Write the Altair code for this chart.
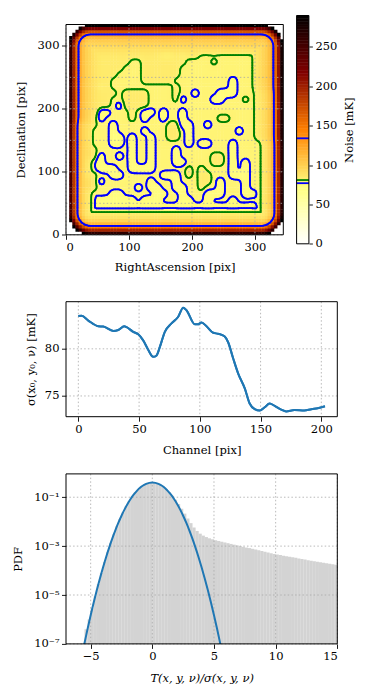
import altair as alt
import numpy as np
import pandas as pd

FONT = "DejaVu Serif"
FS = 11.5
BLUE = "#0000ff"
GREEN = "#008000"
LINE_C = "#1f77b4"
GRID_C = "#a8a8a8"

# ---------------- Panel 1: noise map (coarse level map) ----------------
# rows from top (Dec ~335) to bottom (Dec ~5), 10-pix cells, RA from 5 to 345
MAP_ROWS = [
    "ggggggggggggggggggggggggggggggggggg",  # 335
    "ggggggggggggggggggggggggggggggggggg",  # 325
    "ggggggggggggggggggggggggggggggggggg",  # 315
    "ggggggggggggggggggggggggggggggggggg",  # 305
    "ggggggggggggggggggggggggggggggggggg",  # 295
    "ggggggggggggggg..g.gg.........ggggg",  # 285
    "gggggggggg..ggggggg....g......ggggg",  # 275
    "ggggggggg...gggggg............ggggg",  # 265
    "gggggggg....gggggg............ggggg",  # 255
    "ggggggg.....ggggg.........b...ggggg",  # 245
    "ggggg.g..........g........b...ggggg",  # 235
    "gggggggg.gggg....g..b...bbb........",  # 225
    "ggggggg..gggg....gb....bb...g......",  # 215
    "ggggggg.bgggg......................",  # 205
    "gggggbb...g.bb.b..b................",  # 195
    "gggg.b....g.b..b..b.....gg.........",  # 185
    "bbb....b........ggbb..b............",  # 175
    "bbb.b..b....b...gg.b.......b.......",  # 165
    "bbb.b..bb.b..b..gg.b...............",  # 155
    "bbb.b..bb.b..b.....b.bb...b...bbbbb",  # 145
    "bbb.......b..b...b........b...bbbbb",  # 135
    "bbb..b..b.b..b...b.....gg.b...bbbbb",  # 125
    "bbbbbb....b..b...bb....gg.b.b.bbbbb",  # 115
    "bbbbbbbb..bbbb.....g.g....b.b.bbbbb",  # 105
    "bbbb...bb......bbb.g.gg...bbb.bbbbb",  # 95
    "bbb..b.......b...b...gg.b...b.bbbbb",  # 85
    "bbb........b.bb..bb..g..b...b.bbbbb",  # 75
    "bbbbb..bb.....bb..b...bbb...bbbbbbb",  # 65
    "bbbbbbbbbbb.bbb...bb..b...b...bbbbb",  # 55
    "bbbbbbbbbbbbbbbbbbbbbbbbbbbbbbbbbbb",  # 45
    "bbbbbbbbbbbbbbbbbbbbbbbbbbbbbbbbbbb",  # 35
    "bbbbbbbbbbbbbbbbbbbbbbbbbbbbbbbbbbb",  # 25
    "bbbbbbbbbbbbbbbbbbbbbbbbbbbbbbbbbbb",  # 15
    "bbbbbbbbbbbbbbbbbbbbbbbbbbbbbbbbbbb",  # 5
]
MAP_LEVELS = {"b": 72.5, ".": 79.0, "g": 84.0}
MAP_CELL = 10.0
MAP_SMOOTH = 3.0
EDGE_D = [0, 2, 4, 6, 8, 10, 12, 14, 16, 18, 20, 22, 25, 28, 31, 34, 36, 38, 40, 42, 45, 50, 55]
EDGE_EXTRA = [230, 200, 170, 142, 118, 98, 80, 62, 48, 38, 31, 25, 19, 15, 13, 10.5, 8.5, 6.5, 5.5, 4.5,
              2.5, 0.8, 0]
IMG_BOX = [4.0, 0.0, 345.0, 334.0]
IMG_CORNER = 35.0
CONTOUR_LEVELS = [77, 81, 134]
CONTOUR_COLORS = [BLUE, GREEN, BLUE]
HEAT_XDOM = [0, 345]
HEAT_YDOM = [0, 334]
HEAT_XTICKS = [0, 100, 200, 300]
HEAT_YTICKS = [0, 50, 100, 150, 200, 250, 300]
CB_MAX = 290
CB_TICKS = [0, 50, 100, 150, 200, 250]
CMAP_DOMAIN = [0, 72.5, 145, 217.5, 290]
CMAP_RANGE = ["#ffffff", "#ffff80", "#ff8000", "#800000", "#000000"]

# ---------------- Panel 2: sigma vs channel ----------------
CHANNEL = [0, 2.7, 8.2, 16.4, 20.5, 28.8, 32.9, 37.8, 39.7, 45.2, 49.3, 53.4, 57.5, 61.6, 64.4,
           67.1, 71.2, 76.7, 82.2, 86.3, 89, 95.9, 98.6, 101.4, 105.5, 111, 115, 120.5, 123.3,
           127.4, 131.5, 137, 141, 145.2, 149.3, 153.4, 157.5, 161.6, 167, 171, 178, 186, 191.8,
           197, 203]
SIGMA = [83.49, 83.5, 83.0, 82.4, 82.36, 81.9, 82.0, 82.4, 82.3, 81.8, 81.55, 80.9, 79.9, 79.15,
         79.3, 80.2, 81.8, 82.7, 83.4, 84.37, 84.1, 82.6, 82.6, 82.8, 82.4, 81.7, 81.6, 81.3, 80.7,
         79.0, 77.4, 75.8, 74.2, 73.6, 73.45, 73.8, 74.2, 73.95, 73.55, 73.35, 73.5, 73.45, 73.6,
         73.7, 73.9]
P2_XTICKS = [0, 50, 100, 150, 200]
P2_YTICKS = [75, 80]

# ---------------- Panel 3: PDF histogram ----------------
HIST_START = -5.5
HIST_BIN = 0.25
HIST_LOG10 = [-6.4, -6.0, -5.55, -5.05, -4.55, -4.1, -3.65, -3.25, -2.87, -2.52, -2.19, -1.89,
              -1.62, -1.37, -1.15, -0.96, -0.80, -0.67, -0.56, -0.48, -0.43, -0.40,
              -0.40, -0.43, -0.48, -0.56, -0.66, -0.79, -0.94, -1.10, -1.28, -1.47, -1.67, -1.87,
              -2.06, -2.24, -2.38, -2.49, -2.57, -2.63, -2.68, -2.72,
              -2.76, -2.79, -2.82, -2.85, -2.88, -2.91, -2.94, -2.97, -3.00, -3.03, -3.06, -3.08,
              -3.11, -3.14, -3.17, -3.20, -3.23, -3.26, -3.29, -3.32,
              -3.34, -3.36, -3.39, -3.41, -3.44, -3.46, -3.48, -3.51, -3.53, -3.55, -3.58, -3.60,
              -3.62, -3.64, -3.66, -3.68, -3.70, -3.72, -3.74, -3.76]
GAUSS_X = [-5.75 + 0.25 * k for k in range(47)]
GAUSS_PDF = [2.64e-8, 1.077e-7, 4.13e-7, 1.487e-6, 5.03e-6, 1.598e-5, 4.77e-5, 1.338e-4, 3.526e-4,
             8.727e-4, 2.029e-3, 4.432e-3, 9.09e-3, 1.753e-2, 3.174e-2, 5.399e-2, 8.628e-2, 0.1295,
             0.1827, 0.2420, 0.3011, 0.3521, 0.3867, 0.3989, 0.3867, 0.3521, 0.3011, 0.2420, 0.1827,
             0.1295, 8.628e-2, 5.399e-2, 3.174e-2, 1.753e-2, 9.09e-3, 4.432e-3, 2.029e-3, 8.727e-4,
             3.526e-4, 1.338e-4, 4.77e-5, 1.598e-5, 5.03e-6, 1.487e-6, 4.13e-7, 1.077e-7, 2.64e-8]
P3_XTICKS = [-5, 0, 5, 10, 15]
P3_YTICKS = [1e-7, 1e-5, 1e-3, 1e-1]

# ================= build panel 1 field =================
NCOL = 35
rows = [r.ljust(NCOL, ".")[:NCOL] for r in MAP_ROWS][::-1]  # bottom row first
C = np.array([[MAP_LEVELS[ch] for ch in r] for r in rows])
nyc, nxc = C.shape


def gsmooth(A, sigma_cells):
    r = max(1, int(np.ceil(3 * sigma_cells)))
    t = np.arange(-r, r + 1)
    k = np.exp(-0.5 * (t / sigma_cells) ** 2)
    k /= k.sum()
    P = np.pad(A, ((0, 0), (r, r)), mode="edge")
    A = np.apply_along_axis(lambda v: np.convolve(v, k, mode="valid"), 1, P)
    P = np.pad(A, ((r, r), (0, 0)), mode="edge")
    return np.apply_along_axis(lambda v: np.convolve(v, k, mode="valid"), 0, P)


def field(step):
    xv = np.arange(step / 2, HEAT_XDOM[1], step)
    yv = np.arange(step / 2, HEAT_YDOM[1], step)
    gx = np.clip((xv - MAP_CELL / 2) / MAP_CELL, 0, nxc - 1)
    gy = np.clip((yv - MAP_CELL / 2) / MAP_CELL, 0, nyc - 1)
    i0 = np.minimum(np.floor(gx).astype(int), nxc - 2)
    j0 = np.minimum(np.floor(gy).astype(int), nyc - 2)
    tx = (gx - i0)[None, :]
    ty = (gy - j0)[:, None]
    F = (C[np.ix_(j0, i0)] * (1 - tx) * (1 - ty) + C[np.ix_(j0, i0 + 1)] * tx * (1 - ty)
         + C[np.ix_(j0 + 1, i0)] * (1 - tx) * ty + C[np.ix_(j0 + 1, i0 + 1)] * tx * ty)
    F = gsmooth(F, MAP_SMOOTH / step)
    X, Y = np.meshgrid(xv, yv)
    bx0, by0, bx1, by1 = IMG_BOX
    cx, cy = (bx0 + bx1) / 2, (by0 + by1) / 2
    hx, hy = (bx1 - bx0) / 2, (by1 - by0) / 2
    qx = np.abs(X - cx) - (hx - IMG_CORNER)
    qy = np.abs(Y - cy) - (hy - IMG_CORNER)
    sd = np.hypot(np.maximum(qx, 0), np.maximum(qy, 0)) + np.minimum(np.maximum(qx, qy), 0) - IMG_CORNER
    Dd = -sd
    Vv = F + np.interp(Dd, EDGE_D, EDGE_EXTRA)
    Vv[Dd < 0] = np.nan
    return xv, yv, Vv


STEP = 5.0
xs, ys, V = field(STEP)
heat_rows = []
for j in range(len(ys)):
    for i in range(len(xs)):
        if np.isnan(V[j, i]):
            continue
        heat_rows.append({
            "x": round(xs[i] - STEP / 2, 2), "x2": round(min(xs[i] + STEP / 2 + 0.7, HEAT_XDOM[1]), 2),
            "y": round(ys[j] - STEP / 2, 2), "y2": round(min(ys[j] + STEP / 2 + 0.7, HEAT_YDOM[1]), 2),
            "v": round(float(V[j, i]), 1)})
heat_df = pd.DataFrame(heat_rows)


def contour_segments(Vv, xv, yv, level):
    segs = []
    ny, nx = Vv.shape
    for j in range(ny - 1):
        y0, y1 = yv[j], yv[j + 1]
        for i in range(nx - 1):
            a, b, c, d = Vv[j, i], Vv[j, i + 1], Vv[j + 1, i + 1], Vv[j + 1, i]
            if np.isnan(a) or np.isnan(b) or np.isnan(c) or np.isnan(d):
                continue
            code = int(a > level) + 2 * int(b > level) + 4 * int(c > level) + 8 * int(d > level)
            if code == 0 or code == 15:
                continue
            x0, x1 = xv[i], xv[i + 1]

            def lp(p, q, vp, vq):
                return p + (q - p) * (level - vp) / (vq - vp)

            E = {}
            if (a > level) != (b > level):
                E[0] = (lp(x0, x1, a, b), y0)
            if (b > level) != (c > level):
                E[1] = (x1, lp(y0, y1, b, c))
            if (d > level) != (c > level):
                E[2] = (lp(x0, x1, d, c), y1)
            if (a > level) != (d > level):
                E[3] = (x0, lp(y0, y1, a, d))
            if code in (5, 10):
                center = (a + b + c + d) / 4 > level
                if code == 5:
                    pairs = [(0, 1), (2, 3)] if center else [(3, 0), (1, 2)]
                else:
                    pairs = [(3, 0), (1, 2)] if center else [(0, 1), (2, 3)]
            else:
                k = list(E.keys())
                pairs = [(k[0], k[1])]
            for p, q in pairs:
                segs.append({"x": round(E[p][0], 2), "y": round(E[p][1], 2),
                             "x2": round(E[q][0], 2), "y2": round(E[q][1], 2)})
    return pd.DataFrame(segs)


cxs, cys, CV = field(2.5)

# ================= layout constants =================
W1, H1 = 217.3, 228.3
PT, PB = 9.0, 219.3
CB_X0, CB_X1 = 230.6, 242.9
W2, H2 = 271.3, 115.0
W3, H3 = 271.3, 170.0
ONE = pd.DataFrame({"k": [0]})
dash = [1.5, 2.2]

cmap = alt.Scale(domain=CMAP_DOMAIN, range=CMAP_RANGE, interpolate="rgb")
xs1 = alt.Scale(domain=HEAT_XDOM, nice=False, zero=False)
ys1 = alt.Scale(domain=HEAT_YDOM, nice=False, zero=False, range=[PB, PT])

heat = alt.Chart(heat_df).mark_rect(clip=True, strokeWidth=0).encode(
    x=alt.X("x:Q", scale=xs1, axis=alt.Axis(values=HEAT_XTICKS, title="RightAscension [pix]", offset=-(H1 - PB),
                                            titleY=32.4, titleX=W1 / 2, titleBaseline="middle")),
    x2="x2:Q",
    y=alt.Y("y:Q", scale=ys1, axis=alt.Axis(values=HEAT_YTICKS, title="Declination [pix]", titleX=-44.4,
                                            titleY=(PT + PB) / 2, titleBaseline="middle")),
    y2="y2:Q",
    color=alt.Color("v:Q", scale=cmap, legend=None),
)
hgx = alt.Chart(pd.DataFrame({"g": HEAT_XTICKS})).mark_rule(color=GRID_C, strokeDash=dash, strokeWidth=0.8).encode(
    x=alt.X("g:Q", scale=xs1), y=alt.value(PT), y2=alt.value(PB))
hgy = alt.Chart(pd.DataFrame({"g": HEAT_YTICKS})).mark_rule(color=GRID_C, strokeDash=dash, strokeWidth=0.8).encode(
    y=alt.Y("g:Q", scale=ys1), x=alt.value(0), x2=alt.value(W1))
cont_layers = []
for lvl, col in zip(CONTOUR_LEVELS, CONTOUR_COLORS):
    sdf = contour_segments(CV, cxs, cys, lvl)
    cont_layers.append(alt.Chart(sdf).mark_rule(color=col, strokeWidth=1.8, strokeCap="round").encode(
        x=alt.X("x:Q", scale=xs1), y=alt.Y("y:Q", scale=ys1), x2="x2:Q", y2="y2:Q"))
frame1 = alt.Chart(ONE).mark_rect(fillOpacity=0, stroke="black", strokeWidth=1).encode(
    x=alt.value(0), x2=alt.value(W1), y=alt.value(PT), y2=alt.value(PB))

cbs = alt.Scale(domain=[0, CB_MAX], nice=False, zero=False, range=[H1, 0])
cb_vals = np.arange(0, CB_MAX, 2.0)
cb_df = pd.DataFrame({"a": cb_vals, "b": np.minimum(cb_vals + 2.6, CB_MAX), "m": cb_vals + 1})
cb = alt.Chart(cb_df).mark_rect(strokeWidth=0).encode(
    x=alt.value(CB_X0), x2=alt.value(CB_X1),
    y=alt.Y("a:Q", scale=cbs, axis=alt.Axis(orient="right", values=CB_TICKS, offset=CB_X1 - W1, tickSize=3.5,
                                            title="Noise [mK]", titleAngle=270, titleBaseline="middle",
                                            titleX=41.0, titleY=H1 / 2)),
    y2="b:Q",
    color=alt.Color("m:Q", scale=cmap, legend=None),
)
cb_lines = []
for lvl, col in zip(CONTOUR_LEVELS, CONTOUR_COLORS):
    cb_lines.append(alt.Chart(pd.DataFrame({"lv": [lvl]})).mark_rule(color=col, strokeWidth=1.8).encode(
        y=alt.Y("lv:Q", scale=cbs), x=alt.value(CB_X0), x2=alt.value(CB_X1)))
cb_frame = alt.Chart(ONE).mark_rect(fillOpacity=0, stroke="black", strokeWidth=1).encode(
    x=alt.value(CB_X0), x2=alt.value(CB_X1), y=alt.value(0), y2=alt.value(H1))

row1 = alt.layer(
    alt.layer(heat, hgx, hgy, *cont_layers, frame1),
    alt.layer(cb, *cb_lines, cb_frame),
).resolve_scale(y="independent").properties(width=W1, height=H1)

# ================= panel 2 =================
xs2 = alt.Scale(domain=[-10.15, 213.15], nice=False, zero=False)
ys2 = alt.Scale(domain=[72.8, 85.0], nice=False, zero=False)
df2 = pd.DataFrame({"ch": CHANNEL, "s": SIGMA})
line2 = alt.Chart(df2).mark_line(color=LINE_C, strokeWidth=2, interpolate="monotone").encode(
    x=alt.X("ch:Q", scale=xs2, axis=alt.Axis(values=P2_XTICKS, title="Channel [pix]", titleY=33.3,
                                             titleX=W2 / 2, titleBaseline="middle")),
    y=alt.Y("s:Q", scale=ys2, axis=alt.Axis(values=P2_YTICKS, title="σ(x₀, y₀, ν) [mK]", titleX=-34.4,
                                            titleY=H2 / 2, titleBaseline="middle")),
)
g2x = alt.Chart(pd.DataFrame({"g": P2_XTICKS})).mark_rule(color=GRID_C, strokeDash=dash, strokeWidth=0.8).encode(
    x=alt.X("g:Q", scale=xs2))
g2y = alt.Chart(pd.DataFrame({"g": P2_YTICKS})).mark_rule(color=GRID_C, strokeDash=dash, strokeWidth=0.8).encode(
    y=alt.Y("g:Q", scale=ys2))
frame2 = alt.Chart(ONE).mark_rect(fillOpacity=0, stroke="black", strokeWidth=1).encode(
    x=alt.value(0), x2=alt.value(W2), y=alt.value(0), y2=alt.value(H2))
row2 = alt.layer(line2, g2x, g2y, line2, frame2).properties(width=W2, height=H2)

# ================= panel 3 =================
xs3 = alt.Scale(domain=[-7, 15], nice=False, zero=False)
ys3 = alt.Scale(type="log", domain=[1e-7, 0.9], nice=False)
lefts = [HIST_START + HIST_BIN * k for k in range(len(HIST_LOG10))]
df3 = pd.DataFrame({"l": lefts, "r": [v + HIST_BIN + 0.01 for v in lefts],
                    "p": [10 ** v for v in HIST_LOG10], "b": [1e-7] * len(lefts)})
bars = alt.Chart(df3).mark_rect(color="#d3d3d3", clip=True, strokeWidth=0).encode(
    x=alt.X("l:Q", scale=xs3, axis=alt.Axis(values=P3_XTICKS, title="T(x, y, ν)/σ(x, y, ν)",
                                            titleFontStyle="italic", titleY=34.6, titleX=W3 / 2,
                                            titleBaseline="middle")),
    x2="r:Q",
    y=alt.Y("p:Q", scale=ys3, axis=alt.Axis(values=P3_YTICKS, title="PDF", titleX=-47.7, titleY=H3 / 2,
                                            titleBaseline="middle",
                                            labelExpr="datum.value < 1e-6 ? '10⁻⁷' : datum.value < 1e-4 ? '10⁻⁵' : datum.value < 1e-2 ? '10⁻³' : '10⁻¹'")),
    y2="b:Q",
)
g3x = alt.Chart(pd.DataFrame({"g": P3_XTICKS})).mark_rule(color=GRID_C, strokeDash=dash, strokeWidth=0.8).encode(
    x=alt.X("g:Q", scale=xs3))
g3y = alt.Chart(pd.DataFrame({"g": P3_YTICKS})).mark_rule(color=GRID_C, strokeDash=dash, strokeWidth=0.8).encode(
    y=alt.Y("g:Q", scale=ys3))
gauss = alt.Chart(pd.DataFrame({"gx": GAUSS_X, "gp": GAUSS_PDF})).mark_line(
    color=LINE_C, strokeWidth=2, clip=True, interpolate="monotone").encode(
    x=alt.X("gx:Q", scale=xs3), y=alt.Y("gp:Q", scale=ys3))
frame3 = alt.Chart(ONE).mark_rect(fillOpacity=0, stroke="black", strokeWidth=1).encode(
    x=alt.value(0), x2=alt.value(W3), y=alt.value(0), y2=alt.value(H3))
row3 = alt.layer(bars, g3x, g3y, gauss, frame3).properties(width=W3, height=H3)

chart = alt.vconcat(row1, row2, row3, spacing=57.2, bounds="flush").properties(
    padding={"left": 4, "top": 6.5, "right": 2, "bottom": 2}
).configure_view(strokeWidth=0).configure_axis(
    labelFont=FONT, titleFont=FONT, labelFontSize=FS, titleFontSize=FS, titleFontWeight="normal",
    labelColor="black", titleColor="black", tickColor="black", tickWidth=0.9, tickSize=4.5,
    labelPadding=2.5, domain=False, grid=False)

chart.save("out.html", embed_options={"renderer": "svg", "actions": False})
